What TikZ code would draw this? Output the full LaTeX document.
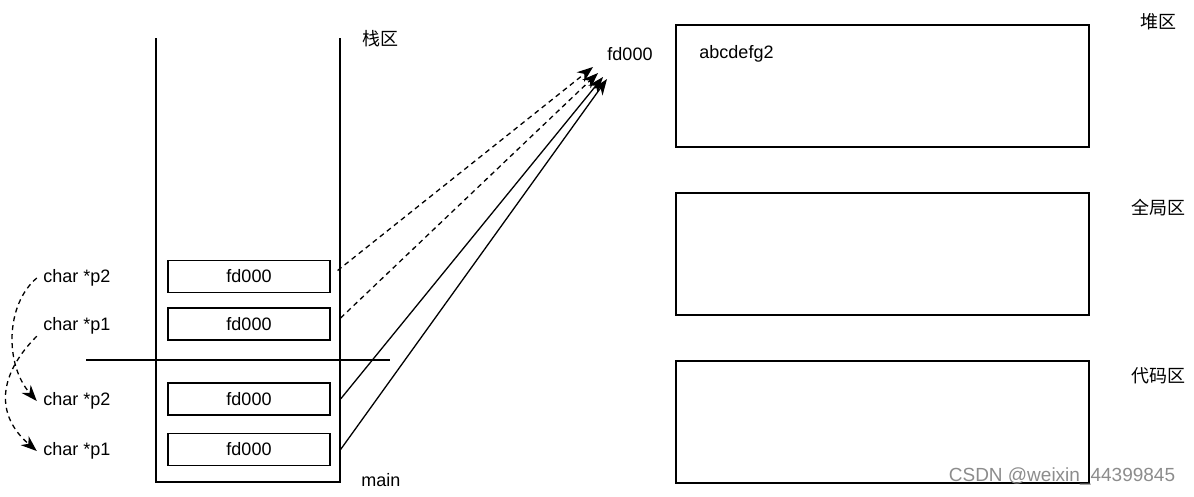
\documentclass[tikz,border=0pt]{standalone}
\usepackage{fontspec}
\setmainfont{Liberation Sans}
\newfontfamily\cjk{Noto Sans CJK SC}
\usetikzlibrary{arrows.meta,positioning}

\begin{document}
\begin{tikzpicture}[x=1pt, y=-1pt,
      cell/.style={draw, line width=1.2pt, minimum width=162pt, minimum height=32pt,
        inner sep=0pt, font=\fontsize{18}{20}\selectfont},
      region/.style={draw, line width=1.2pt, minimum width=413pt, minimum height=122pt},
      lbl/.style={inner sep=0pt, font=\fontsize{18}{20}\selectfont},
      var/.style={lbl, minimum width=80pt, minimum height=20pt},
      ptr/.style={-{Stealth[length=16pt, width=12pt, inset=5pt]}, line width=1.3pt},
      copyptr/.style={ptr, dash pattern=on 5pt off 4pt}
    ]
      \useasboundingbox (0,0) rectangle (1194,496);

      % Stack frame
      \draw[line width=1.2pt] (156,38) -- (156,482) -- (340,482) -- (340,38);
      \draw[line width=1.2pt] (86,360) -- (390,360);
      \node[lbl] (stack) at (380,39) {\cjk 栈区};
      \node[lbl] (main) at (381,480) {main};

      % Stack cells
      \node[cell] (s1) at (249,276.5) {fd000};
      \node[cell] (s2) at (249,324) {fd000};
      \node[cell] (s3) at (249,399) {fd000};
      \node[cell] (s4) at (249,449.5) {fd000};

      % Variable names
      \node[var] (p2a) at (77,278) {char *p2};
      \node[var] (p1a) at (77,326) {char *p1};
      \node[var] (p2b) at (77,401) {char *p2};
      \node[var] (p1b) at (77,451) {char *p1};

      % Memory regions
      \node[region] (heap) at (882.5,86) {};
      \node[region] (global) at (882.5,254) {};
      \node[region] (code) at (882.5,422) {};
      \node[lbl] (heaplbl) at (1158,22) {\cjk 堆区};
      \node[lbl] (globallbl) at (1158,208) {\cjk 全局区};
      \node[lbl] (codelbl) at (1158,376) {\cjk 代码区};
      \node[lbl] (str) at (736.5,54) {abcdefg2};
      \node[lbl] (addr) at (630,54) {fd000};

      % Arrow tips below the address
      \coordinate (t1) at (593,67);
      \coordinate (t2) at (598,73);
      \coordinate (t3) at (603,77);
      \coordinate (t4) at (607,79);

      % Pointers into the heap
      \draw[copyptr] ([xshift=7pt, yshift=6pt]s1.east) -- (t1);
      \draw[copyptr] ([xshift=10pt, yshift=6pt]s2.east) -- (t2);
      \draw[ptr] ([xshift=10pt]s3.east) -- (t3);
      \draw[ptr] ([xshift=10pt]s4.east) -- (t4);

      % Copies of the variables
      \draw[copyptr] (p2a.west) .. controls (5,305) and (5,365) .. (p2b.west);
      \draw[copyptr] (p1a.south west) .. controls (-2,375) and (-5,415) .. (p1b.west);

      % Watermark
      \node[lbl, font=\fontsize{19}{21}\selectfont, text=black!45] (mark) at (1062,476) {CSDN @weixin\_44399845};
    \end{tikzpicture}
\end{document}
